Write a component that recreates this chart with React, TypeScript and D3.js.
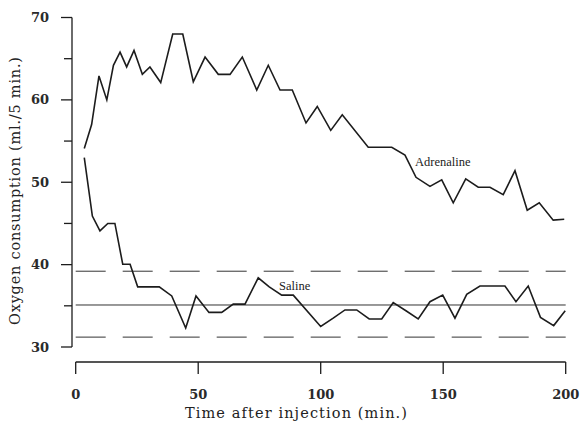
// oxygen consumption after injection: adrenaline vs saline
import { useEffect, useRef } from 'react';
import * as d3 from 'd3';

// minutes after injection
const adrenalineTime = [3.5, 6.5, 9.5, 12.7, 15.4, 18.1, 20.8, 23.8, 27.2, 30.3, 34.7, 39.6, 43.7, 48, 52.8, 58.2, 63, 68, 73.9, 78.6, 83.4, 88.4, 94, 98.6, 104.1, 108.8, 119.4, 124.2, 129, 134.4, 138.9, 144.6, 149.4, 154.1, 159.2, 164.3, 169.1, 174.5, 179.3, 184.3, 189.2, 194.9, 199.4];
const adrenalineValue = [54.1, 57.0, 62.9, 60.0, 64.2, 65.8, 64.0, 66.0, 63.1, 64.0, 62.1, 68.0, 68.0, 62.2, 65.2, 63.1, 63.1, 65.2, 61.2, 64.2, 61.2, 61.2, 57.2, 59.2, 56.3, 58.2, 54.25, 54.25, 54.25, 53.3, 50.6, 49.5, 50.3, 47.5, 50.4, 49.4, 49.4, 48.5, 51.4, 46.6, 47.5, 45.4, 45.5];

const salineTime = [3.5, 6.8, 9.9, 13.1, 16, 19.2, 22.2, 25.3, 34.1, 39.2, 44.9, 49.1, 54.4, 59.6, 64.3, 69.1, 74.5, 79, 84.1, 88.8, 100, 105.1, 109.9, 114.7, 119.8, 124.9, 129.6, 134.8, 139.8, 144.6, 149.8, 154.8, 159.6, 165, 170.2, 175.2, 179.7, 184.7, 189.7, 195.1, 199.8];
const salineValue = [53.0, 45.9, 44.1, 45.0, 45.0, 40.05, 40.05, 37.3, 37.3, 36.2, 32.3, 36.2, 34.2, 34.2, 35.2, 35.2, 38.4, 37.3, 36.3, 36.3, 32.5, 33.5, 34.5, 34.5, 33.4, 33.4, 35.4, 34.4, 33.4, 35.5, 36.3, 33.5, 36.4, 37.4, 37.4, 37.4, 35.5, 37.4, 33.6, 32.6, 34.4];

// saline mean and the two limits either side of it
const salineMean = 35.1;
const salineLimits = [39.2, 31.2];

const xTicks = [0, 50, 100, 150, 200];
const yTicks = [30, 35, 40, 45, 50, 55, 60, 65, 70];

export default function App() {
    const ref = useRef<SVGSVGElement>(null);
    const width = 582;
    const height = 427;

    useEffect(() => {
        const svg = d3.select(ref.current);
        svg.selectAll('*').remove();

        const x = d3.scaleLinear().domain([0, 200]).range([75.7, 565.7]);
        const y = d3.scaleLinear().domain([30, 70]).range([347, 17.5]);
        const ink = '#1c1c1c';
        const serif = '"DejaVu Serif", serif';

        // y axis
        const yAxisX = 72;
        svg.append('line')
            .attr('x1', yAxisX).attr('x2', yAxisX)
            .attr('y1', y(70)).attr('y2', y(30))
            .attr('stroke', ink).attr('stroke-width', 1.3);
        svg.selectAll('.ytick').data(yTicks).enter()
            .append('line')
            .attr('x1', d => yAxisX - (d % 10 === 0 ? 11 : 8))
            .attr('x2', yAxisX)
            .attr('y1', d => y(d)).attr('y2', d => y(d))
            .attr('stroke', ink).attr('stroke-width', 1.3);
        svg.selectAll('.ylabel').data(yTicks.filter(d => d % 10 === 0)).enter()
            .append('text')
            .attr('x', 49).attr('y', d => y(d))
            .attr('dy', '0.35em')
            .attr('text-anchor', 'end')
            .style('font-family', serif)
            .style('font-size', '13px')
            .style('font-weight', 'bold')
            .attr('fill', '#2a2a2a')
            .text(d => d);

        // x axis (sits below the y axis)
        const xAxisY = 362;
        svg.append('line')
            .attr('x1', x(0)).attr('x2', x(200))
            .attr('y1', xAxisY).attr('y2', xAxisY)
            .attr('stroke', ink).attr('stroke-width', 1.3);
        svg.selectAll('.xtick').data(xTicks).enter()
            .append('line')
            .attr('x1', d => x(d)).attr('x2', d => x(d))
            .attr('y1', xAxisY).attr('y2', xAxisY + 12)
            .attr('stroke', ink).attr('stroke-width', 1.3);
        svg.selectAll('.xlabel').data(xTicks).enter()
            .append('text')
            .attr('x', d => x(d)).attr('y', 399)
            .attr('text-anchor', 'middle')
            .style('font-family', serif)
            .style('font-size', '13px')
            .style('font-weight', 'bold')
            .attr('fill', '#2a2a2a')
            .text(d => d);

        // axis titles
        svg.append('text')
            .attr('x', 296).attr('y', 418)
            .attr('text-anchor', 'middle')
            .attr('textLength', 222)
            .style('font-family', serif)
            .style('font-size', '14.5px')
            .attr('fill', '#222')
            .text('Time after injection (min.)');
        svg.append('text')
            .attr('transform', 'translate(20,191) rotate(-90)')
            .attr('text-anchor', 'middle')
            .attr('textLength', 268)
            .style('font-family', serif)
            .style('font-size', '14.5px')
            .attr('fill', '#222')
            .text('Oxygen consumption (ml./5 min.)');

        // saline reference lines
        svg.append('line')
            .attr('x1', x(0)).attr('x2', x(200))
            .attr('y1', y(salineMean)).attr('y2', y(salineMean))
            .attr('stroke', '#333').attr('stroke-width', 1);
        svg.selectAll('.limit').data(salineLimits).enter()
            .append('line')
            .attr('x1', x(0)).attr('x2', x(200))
            .attr('y1', d => y(d)).attr('y2', d => y(d))
            .attr('stroke', '#333').attr('stroke-width', 1)
            .attr('stroke-dasharray', '30 17');

        // the two series
        const line = d3.line<[number, number]>()
            .x(d => x(d[0]))
            .y(d => y(d[1]));
        const series = [
            adrenalineTime.map((t, i) => [t, adrenalineValue[i]] as [number, number]),
            salineTime.map((t, i) => [t, salineValue[i]] as [number, number]),
        ];
        svg.selectAll('.series').data(series).enter()
            .append('path')
            .attr('d', d => line(d))
            .attr('fill', 'none')
            .attr('stroke', ink)
            .attr('stroke-width', 1.6)
            .attr('stroke-linejoin', 'miter');

        // in-plot labels
        svg.append('text')
            .attr('x', x(138.5)).attr('y', y(52))
            .style('font-family', '"Liberation Serif", serif')
            .style('font-size', '12.5px')
            .attr('fill', '#222')
            .text('Adrenaline');
        svg.append('text')
            .attr('x', x(83)).attr('y', y(36.9))
            .style('font-family', '"Liberation Serif", serif')
            .style('font-size', '12.5px')
            .attr('fill', '#222')
            .text('Saline');
    }, []);

    return (
        <svg ref={ref} width={width} height={height}
            style={{ position: 'absolute', left: 0, top: 0, background: '#fff' }} />
    );
}
